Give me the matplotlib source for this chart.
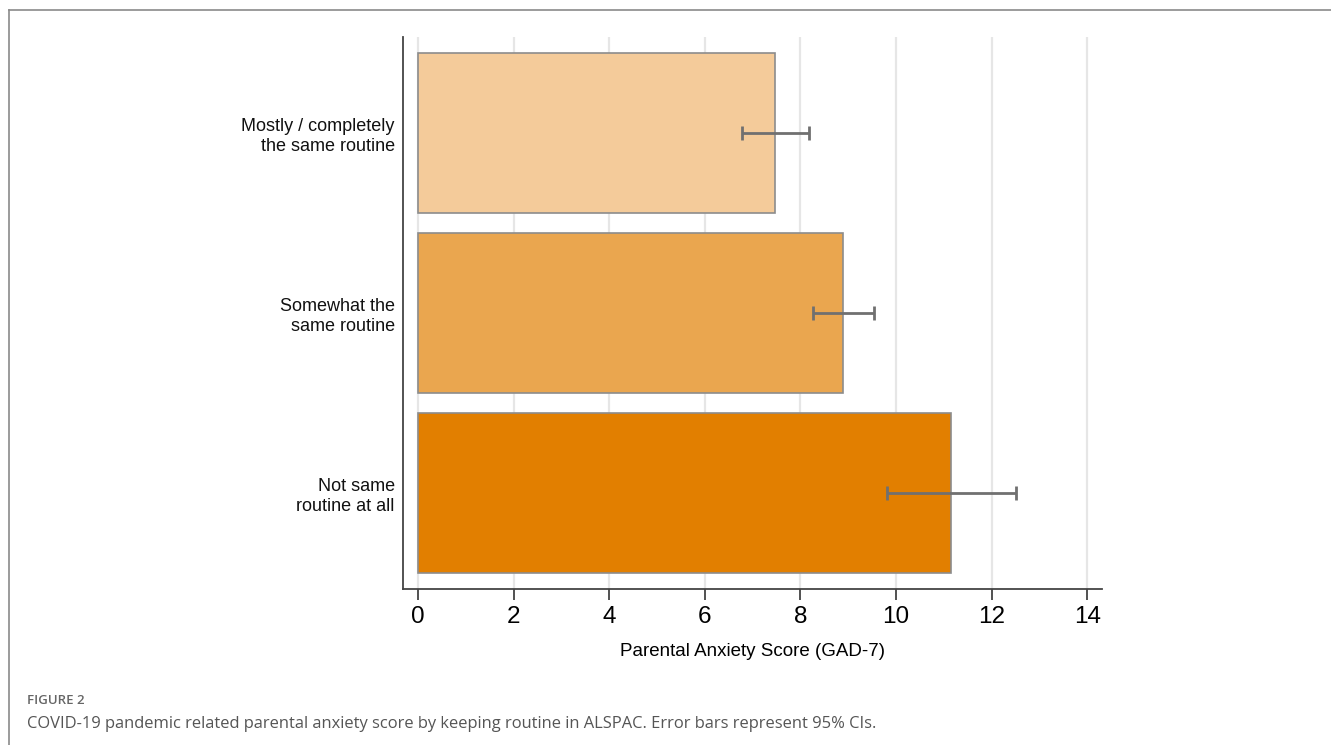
import numpy as np
import matplotlib.pyplot as plt
from matplotlib.lines import Line2D

# routine groups, mean GAD-7 score and 95% CI
groups = ['Mostly / completely\nthe same routine',
          'Somewhat the\nsame routine',
          'Not same\nroutine at all']
means = [7.47, 8.89, 11.15]
ci_low = [6.78, 8.27, 9.81]
ci_high = [8.18, 9.54, 12.51]
bar_colors = ['#F4CB9A', '#EAA64F', '#E27F00']
xticks = [0, 2, 4, 6, 8, 10, 12, 14]

W, H = 1331, 745
fig = plt.figure(figsize=(W / 100, H / 100), dpi=100)

ax = fig.add_axes([403 / W, 1 - 589 / H, (1102 - 403) / W, (589 - 37) / H])

y = np.arange(len(groups))
means = np.array(means)
err = [means - np.array(ci_low), np.array(ci_high) - means]

ax.barh(y, means, height=160 / 180, color=bar_colors, edgecolor='#8c8c8c',
        linewidth=1.2, zorder=2)
ax.errorbar(means, y, xerr=err, fmt='none', ecolor='#707070', elinewidth=2,
            capsize=5, capthick=2, zorder=3)

ax.set_ylim(2 + (589 - 493) / 180, -(133 - 37) / 180)
ax.set_xlim(-15 / 47.8, (1102 - 418) / 47.8)
ax.set_xticks(xticks)
ax.set_xticklabels([str(t) for t in xticks], fontsize=17.5, family='Liberation Sans')
ax.set_yticks(y)
ax.set_yticklabels(groups, fontsize=13, family='Liberation Sans',
                   linespacing=1.2, color='#111111')
ax.tick_params(axis='y', length=0, pad=6)
ax.tick_params(axis='x', length=8, width=1.2, color='#333333', pad=4)
ax.set_xlabel('Parental Anxiety Score (GAD-7)', fontsize=13.5,
              family='Liberation Sans', labelpad=11)

ax.grid(axis='x', color='#e6e6e6', linewidth=1.6, zorder=0)
ax.set_axisbelow(True)
for s in ['top', 'right']:
    ax.spines[s].set_visible(False)
for s in ['left', 'bottom']:
    ax.spines[s].set_color('#444444')
    ax.spines[s].set_linewidth(1.3)

# frame lines of the figure panel
fig.add_artist(Line2D([9 / W, 1], [1 - 10 / H, 1 - 10 / H], color='#8a8a8a', lw=1.2))
fig.add_artist(Line2D([9 / W, 9 / W], [0, 1 - 10 / H], color='#8a8a8a', lw=1.2))

fig.text(27 / W, 1 - 700 / H, 'FIGURE 2', fontsize=9.5, family='Open Sans',
         fontweight='semibold', color='#666666', va='center')
fig.text(27 / W, 1 - 724 / H,
         'COVID-19 pandemic related parental anxiety score by keeping routine in ALSPAC. '
         'Error bars represent 95% CIs.',
         fontsize=11.9, family='Open Sans', color='#555555', va='center')

fig.savefig('out.png', dpi=100)
